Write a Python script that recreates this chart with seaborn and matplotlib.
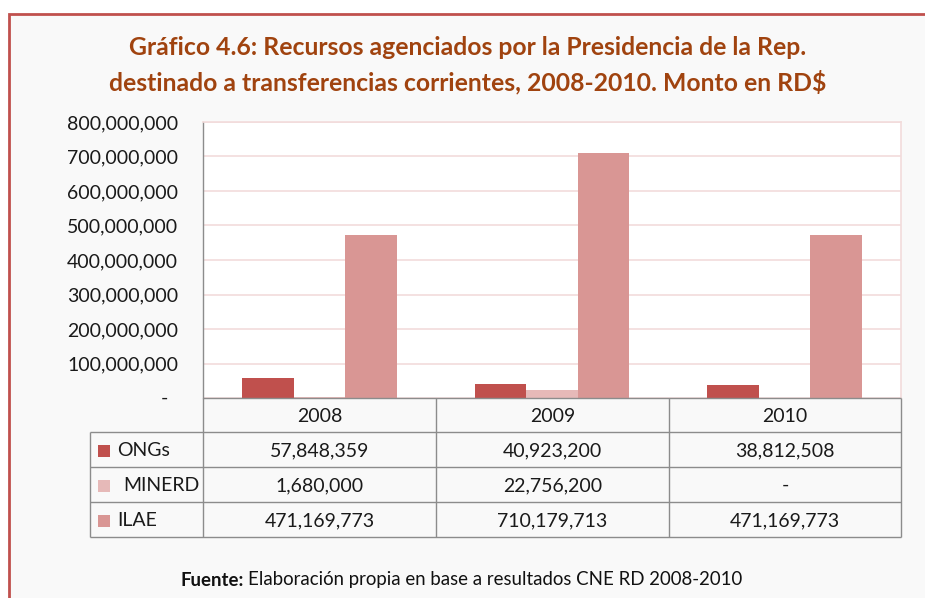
import matplotlib
matplotlib.use("Agg")
import matplotlib.pyplot as plt
import seaborn as sns
import pandas as pd
from matplotlib.patches import Rectangle
from matplotlib.ticker import FuncFormatter

years = ["2008", "2009", "2010"]
series = ["ONGs", "MINERD", "ILAE"]
ongs = [57848359, 40923200, 38812508]
minerd = [1680000, 22756200, 0]
ilae = [471169773, 710179713, 471169773]
table_text = {
    "ONGs": ["57,848,359", "40,923,200", "38,812,508"],
    "MINERD": ["1,680,000", "22,756,200", "-"],
    "ILAE": ["471,169,773", "710,179,713", "471,169,773"],
}
yticks = [0, 100000000, 200000000, 300000000, 400000000, 500000000,
          600000000, 700000000, 800000000]
colors = {"ONGs": "#C0504D", "MINERD": "#E6B9B8", "ILAE": "#D99694"}

title = ("Gráfico 4.6: Recursos agenciados por la Presidencia de la Rep.\n"
         "destinado a transferencias corrientes, 2008-2010. Monto en RD$")

df = pd.DataFrame({
    "year": years * 3,
    "series": ["ONGs"] * 3 + ["MINERD"] * 3 + ["ILAE"] * 3,
    "value": ongs + minerd + ilae,
})

sns.set_style("white")
plt.rcParams["font.family"] = ["Lato", "DejaVu Sans"]

W, H = 925, 598
fig = plt.figure(figsize=(W / 100, H / 100), dpi=100)
fig.patch.set_facecolor("white")

def fx(px):
    return px / W

def fy(py):
    return 1 - py / H

# outer frame
frame = Rectangle((fx(9), fy(700)), 2, fy(14) - fy(700), transform=fig.transFigure,
                  facecolor="#F9F9F9", edgecolor="#C0504D", linewidth=2, zorder=-5)
fig.patches.append(frame)

# plot area
L, R, T, B = 203, 901, 122, 398
ax = fig.add_axes([fx(L), fy(B), fx(R) - fx(L), fy(T) - fy(B)])
ax.set_zorder(2)
ax.set_facecolor("white")
sns.barplot(data=df, x="year", y="value", hue="series", hue_order=series,
            order=years, palette=colors, width=0.665, gap=0, saturation=1,
            legend=False, ax=ax, zorder=3)
for p in ax.patches:
    p.set_edgecolor("none")
ax.set_xlim(-0.5, 2.5)
ax.set_ylim(0, 800000000)
ax.set_yticks(yticks)
ax.yaxis.set_major_formatter(FuncFormatter(lambda v, _: "" if v == 0 else f"{int(v):,}"))
ax.set_xticks([])
ax.set_xlabel("")
ax.set_ylabel("")
ax.tick_params(axis="y", length=0, pad=18, labelsize=14, labelcolor="#1a1a1a")
ax.grid(axis="y", color="#F2DCDB", linewidth=1.2, zorder=0)
ax.set_axisbelow(True)
for s in ["top", "right"]:
    ax.spines[s].set_color("#F2DCDB")
    ax.spines[s].set_linewidth(1.2)
ax.spines["left"].set_color("#8C8C8C")
ax.spines["left"].set_linewidth(1)
ax.spines["bottom"].set_visible(False)
fig.text(fx(164), fy(398), "-", ha="center", va="center", fontsize=14, color="#1a1a1a")

# data table
tax = fig.add_axes([0, 0, 1, 1], facecolor="none")
tax.set_zorder(3)
tax.set_xlim(0, W)
tax.set_ylim(H, 0)
tax.axis("off")
gray = "#8C8C8C"
cols = [203, 436, 669, 901]
rows = [398, 432, 467, 502, 537]
tax.hlines(rows[0], cols[0], cols[-1], color=gray, lw=1)
for y in rows[1:]:
    tax.hlines(y, 90, cols[-1], color=gray, lw=1)
for x in cols:
    tax.vlines(x, rows[0], rows[-1], color=gray, lw=1)
tax.vlines(90, rows[1], rows[-1], color=gray, lw=1)
for i, yr in enumerate(years):
    cx = (cols[i] + cols[i + 1]) / 2
    tax.text(cx, (rows[0] + rows[1]) / 2 + 1, yr, ha="center", va="center",
             fontsize=14, color="#1a1a1a")
label_x = {"ONGs": 117, "MINERD": 123, "ILAE": 117}
for j, s in enumerate(series):
    cy = (rows[j + 1] + rows[j + 2]) / 2 + 1
    tax.add_patch(Rectangle((98, cy - 6), 12, 12, facecolor=colors[s], edgecolor="none"))
    tax.text(label_x[s], cy, s, ha="left", va="center", fontsize=14, color="#1a1a1a")
    for i in range(3):
        cx = (cols[i] + cols[i + 1]) / 2
        tax.text(cx, cy, table_text[s][i], ha="center", va="center",
                 fontsize=14, color="#1a1a1a")

# title
fig.text(fx(468), fy(65), title, ha="center", va="center", fontsize=17.8,
         fontweight="bold", color="#A0430F", linespacing=1.5)

# footer
fig.canvas.draw()
r = fig.canvas.get_renderer()
t1 = fig.text(fx(181), fy(580), "Fuente:", ha="left", va="center", fontsize=13.4,
              fontweight="bold", color="#111111")
bb = t1.get_window_extent(renderer=r)
fig.text(fx(bb.x1 + 4), fy(580), "Elaboración propia en base a resultados CNE RD 2008-2010",
         ha="left", va="center", fontsize=13.4, color="#111111")

fig.savefig("out.png", dpi=100)
